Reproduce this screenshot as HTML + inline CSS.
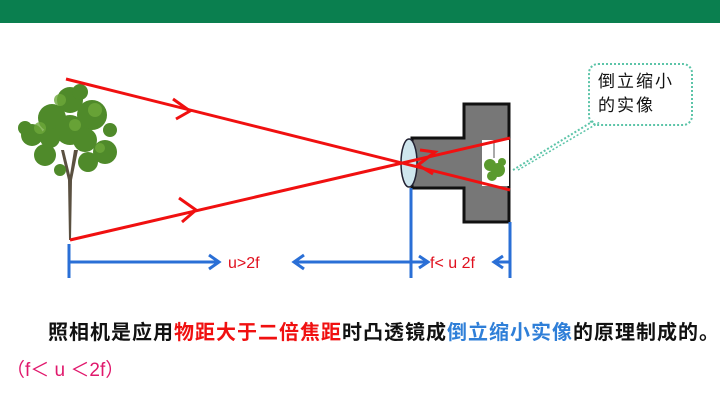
<!DOCTYPE html>
<html><head><meta charset="utf-8"><style>
body{margin:0;width:720px;height:405px;background:#fff;overflow:hidden;position:relative;font-family:"Liberation Sans","Noto Sans CJK SC",sans-serif}
.bar{position:absolute;left:0;top:0;width:720px;height:23px;background:#0a7f4f}
.t1{position:absolute;left:48px;top:316px;font-size:20px;font-weight:bold;color:#111;white-space:nowrap;letter-spacing:1px}
.t2{position:absolute;left:6px;top:355px;font-size:19px;color:#e0186c;white-space:nowrap}
.call{position:absolute;left:588px;top:63px;width:105px;height:63px;border:2px dotted #5cc4a8;border-radius:10px;box-sizing:border-box;font-size:17px;line-height:24px;padding:5px 0 0 8px;color:#111;letter-spacing:2px}
</style></head><body>
<div class="bar"></div>
<svg width="720" height="405" style="position:absolute;left:0;top:0">
<g>
<path d="M69 240 L71 240 L72 180 L78 150 L74 150 L70 175 L64 150 L61 150 L68 180Z" fill="#5a5040"/>
<g fill="#4f8a2a">
<circle cx="70" cy="100" r="13"/><circle cx="52" cy="118" r="14"/><circle cx="92" cy="115" r="15"/>
<circle cx="32" cy="135" r="11"/><circle cx="105" cy="152" r="12"/><circle cx="70" cy="130" r="15"/>
<circle cx="45" cy="155" r="11"/><circle cx="88" cy="162" r="10"/><circle cx="25" cy="128" r="7"/>
<circle cx="80" cy="92" r="8"/><circle cx="110" cy="130" r="7"/><circle cx="60" cy="170" r="6"/>
<circle cx="85" cy="140" r="12"/><circle cx="50" cy="138" r="10"/>
</g>
<g fill="#6ea83a" opacity="0.8">
<circle cx="60" cy="100" r="6"/><circle cx="95" cy="110" r="7"/><circle cx="40" cy="128" r="6"/><circle cx="100" cy="148" r="5"/><circle cx="75" cy="125" r="6"/>
</g>
</g>
<path d="M412 138 H464 V104 H509 V222 H464 V188 H412 Z" fill="#777" stroke="#111" stroke-width="3"/>
<rect x="482" y="140" width="27" height="46" fill="#fff"/>
<g fill="#5a9a2e"><circle cx="490" cy="165" r="6"/><circle cx="498" cy="170" r="7"/><circle cx="492" cy="176" r="5"/><circle cx="502" cy="162" r="4"/></g>
<line x1="494" y1="140" x2="494" y2="158" stroke="#555" stroke-width="1"/>
<ellipse cx="409" cy="163" rx="8" ry="24" fill="#cfe6ee" stroke="#223" stroke-width="1.5"/>
<g stroke="#f01010" stroke-width="3" fill="none">
<line x1="66" y1="79" x2="510" y2="190"/>
<line x1="70" y1="240" x2="510" y2="138"/>
<polyline points="173,99 190,111 176,119"/>
<polyline points="179,198 196,210 182,222"/>
<polyline points="420,150 435,152 418,165 433,174"/>
</g>
<line x1="513" y1="170" x2="595" y2="120" stroke="#5cc4a8" stroke-width="2" stroke-dasharray="2,2"/>
<line x1="518" y1="170" x2="600" y2="122" stroke="#5cc4a8" stroke-width="1.5" stroke-dasharray="2,2"/>
<g stroke="#2a6fd6" stroke-width="3" fill="none">
<line x1="69" y1="244" x2="69" y2="278"/>
<line x1="411" y1="188" x2="411" y2="278"/>
<line x1="510" y1="222" x2="510" y2="278"/>
<line x1="69" y1="262" x2="218" y2="262"/>
<polyline points="209,255 219,262 209,269"/>
<line x1="295" y1="262" x2="411" y2="262"/>
<polyline points="304,255 294,262 304,269"/>
<line x1="411" y1="262" x2="427" y2="262"/>
<polyline points="419,256 428,262 419,268"/>
<line x1="495" y1="262" x2="510" y2="262"/>
<polyline points="503,256 494,262 503,268"/>
</g>
<text x="228" y="268" font-size="16" fill="#e0101e" font-family="Liberation Sans,sans-serif">u&gt;2f</text>
<text x="430" y="268" font-size="16" fill="#e0101e" font-family="Liberation Sans,'Noto Sans CJK SC',sans-serif">f&lt; u 2f</text>
</svg>
<div class="call">倒立缩小<br>的实像</div>
<div class="t1">照相机是应用<span style="color:#f01010">物距大于二倍焦距</span>时凸透镜成<span style="color:#2f7fd8">倒立缩小实像</span>的原理制成的。</div>
<div class="t2">（f＜ u ＜2f）</div>
</body></html>
